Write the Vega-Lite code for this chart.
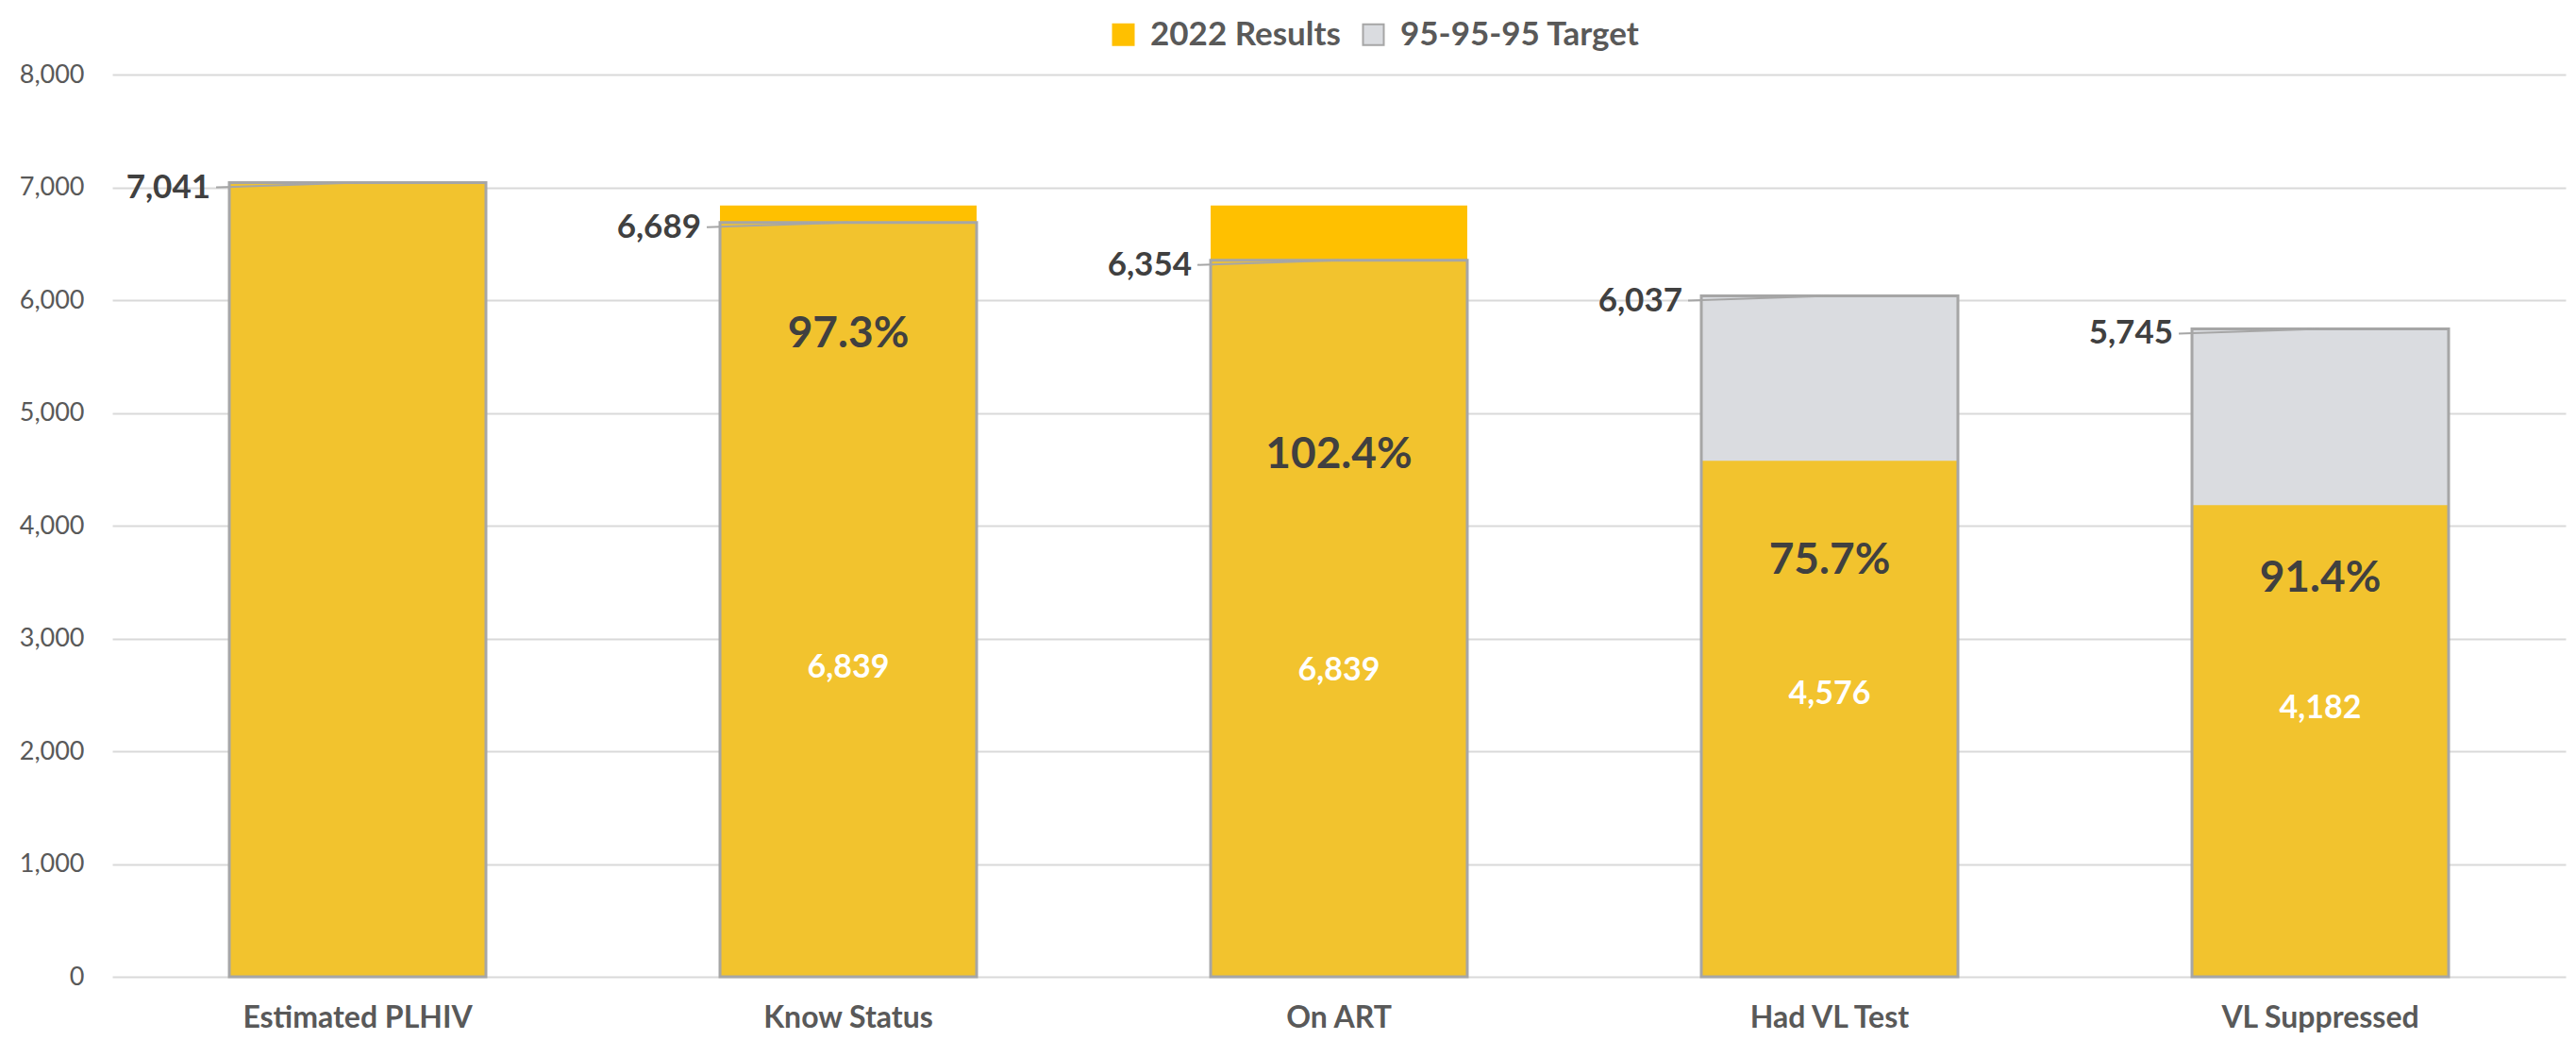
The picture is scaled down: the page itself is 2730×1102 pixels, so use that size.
{
  "$schema": "https://vega.github.io/schema/vega-lite/v6.json",
  "width": 2600,
  "height": 956,
  "autosize": {"type": "none"},
  "padding": {"left": 119, "top": 79, "right": 11, "bottom": 67},
  "background": "white",
  "config": {"view": {"stroke": null}, "font": "Lato"},
  "data": {
    "values": [
      {"stage": "Estimated PLHIV", "result": 7041, "target": 7041, "pct": null, "pct_at": null, "count_at": null},
      {"stage": "Know Status", "result": 6839, "target": 6689, "pct": "97.3%", "pct_at": 5700, "count_at": 2740},
      {"stage": "On ART", "result": 6839, "target": 6354, "pct": "102.4%", "pct_at": 4630, "count_at": 2710},
      {"stage": "Had VL Test", "result": 4576, "target": 6037, "pct": "75.7%", "pct_at": 3690, "count_at": 2500},
      {"stage": "VL Suppressed", "result": 4182, "target": 5745, "pct": "91.4%", "pct_at": 3530, "count_at": 2380}
    ]
  },
  "encoding": {
    "x": {
      "field": "stage",
      "type": "nominal",
      "sort": null,
      "scale": {"paddingInner": 0.477, "paddingOuter": 0.2385},
      "axis": {
        "title": null,
        "domain": false,
        "ticks": false,
        "labelAngle": 0,
        "labelLimit": 0,
        "labelFont": "Lato",
        "labelFontSize": 32,
        "labelFontWeight": "bold",
        "labelColor": "#595959",
        "labelPadding": 28
      }
    }
  },
  "layer": [
    {
      "mark": {"type": "bar"},
      "encoding": {
        "y": {
          "field": "result",
          "type": "quantitative",
          "scale": {"domain": [0, 8000], "nice": false},
          "axis": {
            "title": null,
            "values": [0, 1000, 2000, 3000, 4000, 5000, 6000, 7000, 8000],
            "labelExpr": "format(datum.value, ',')",
            "domain": false,
            "ticks": false,
            "grid": true,
            "gridColor": "#D9D9D9",
            "gridWidth": 2,
            "labelFont": "Lato",
            "labelFontSize": 27,
            "labelColor": "#595959",
            "labelPadding": 30
          }
        },
        "color": {
          "datum": "2022 Results",
          "type": "nominal",
          "scale": {"domain": ["2022 Results", "95-95-95 Target"], "range": ["#FFC000", "#DADCE0"]},
          "legend": {
            "orient": "none",
            "legendX": 1054,
            "legendY": -60,
            "direction": "horizontal",
            "title": null,
            "symbolType": "square",
            "symbolSize": 484,
            "symbolStrokeWidth": 2,
            "labelLimit": 0,
            "labelFont": "Lato",
            "labelFontSize": 35,
            "labelFontWeight": "bold",
            "labelColor": "#595959",
            "labelOffset": 11,
            "columnPadding": 17,
            "encode": {
              "symbols": {
                "update": {
                  "stroke": {"signal": "datum.value == '95-95-95 Target' ? '#A6A6A6' : '#FFC000'"},
                  "fill": {"signal": "datum.value == '95-95-95 Target' ? '#F2F5FA' : '#FFC000'"}
                }
              }
            }
          }
        }
      }
    },
    {
      "mark": {"type": "bar"},
      "encoding": {
        "y": {"field": "target", "type": "quantitative", "title": null},
        "color": {"datum": "95-95-95 Target", "type": "nominal"}
      }
    },
    {
      "transform": [{"filter": "datum.result <= datum.target"}],
      "mark": {"type": "bar", "color": "#F2C32E"},
      "encoding": {
        "y": {"field": "result", "type": "quantitative", "title": null}
      }
    },
    {
      "transform": [{"filter": "datum.result > datum.target"}],
      "mark": {"type": "bar", "color": "#F2C32E"},
      "encoding": {
        "y": {"field": "target", "type": "quantitative", "title": null}
      }
    },
    {
      "mark": {"type": "bar", "fill": null, "fillOpacity": 0, "stroke": "#A6A6A6", "strokeWidth": 3},
      "encoding": {
        "y": {"field": "target", "type": "quantitative", "title": null}
      }
    },
    {
      "mark": {"type": "rule", "color": "#A6A6A6", "strokeWidth": 2, "xOffset": -14, "yOffset": 5},
      "encoding": {
        "x": {"field": "stage", "type": "nominal", "sort": null, "bandPosition": 0},
        "x2": {"field": "stage"},
        "y": {"field": "target", "type": "quantitative", "title": null},
        "y2": {"field": "target"}
      }
    },
    {
      "mark": {"type": "text", "align": "right", "baseline": "middle", "dx": -20, "dy": 5, "font": "Lato", "fontSize": 35, "fontWeight": "bold", "color": "#404040"},
      "encoding": {
        "x": {"field": "stage", "type": "nominal", "sort": null, "bandPosition": 0},
        "y": {"field": "target", "type": "quantitative", "title": null},
        "text": {"field": "target", "type": "quantitative", "format": ","}
      }
    },
    {
      "transform": [{"filter": "datum.pct != null"}],
      "mark": {"type": "text", "align": "center", "baseline": "middle", "font": "Lato", "fontSize": 46, "fontWeight": "bold", "color": "#404040"},
      "encoding": {
        "y": {"field": "pct_at", "type": "quantitative", "title": null},
        "text": {"field": "pct", "type": "nominal"}
      }
    },
    {
      "transform": [{"filter": "datum.pct != null"}],
      "mark": {"type": "text", "align": "center", "baseline": "middle", "font": "Lato", "fontSize": 34, "fontWeight": "bold", "color": "#FFFFFF"},
      "encoding": {
        "y": {"field": "count_at", "type": "quantitative", "title": null},
        "text": {"field": "result", "type": "quantitative", "format": ","}
      }
    }
  ]
}
